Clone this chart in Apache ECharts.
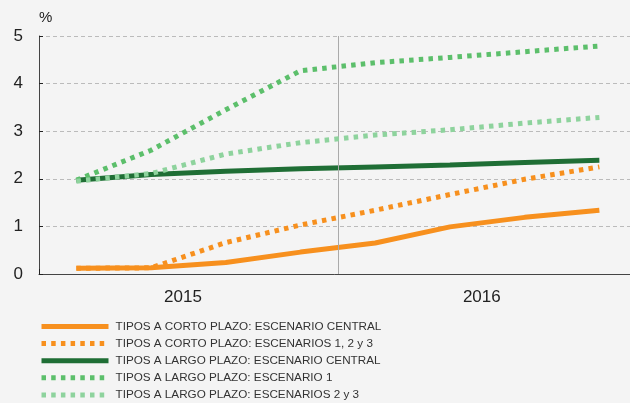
<!DOCTYPE html>
<html>
<head>
<meta charset="utf-8">
<script src="https://cdn.jsdelivr.net/npm/echarts@6/dist/echarts.min.js"></script>
<style>
  html, body { margin: 0; padding: 0; background: #f4f4f4; }
  #chart { width: 630px; height: 403px; }
</style>
</head>
<body>
<div id="chart"></div>
<script>
// Quarterly positions (0 = start of 2015), points at quarter centres.
// The visible span stops a little before the end of 2016.
const quarters = [0.5, 1.5, 2.5, 3.5, 4.5, 5.5, 6.5, 7.5];
const X_MAX = 7.91;
const yearLabels = { 2: '2015', 6: '2016' };
const yearBoundary = 4;
const yTicks = [0, 1, 2, 3, 4, 5];

const cortoCentral   = [0.12, 0.13, 0.24, 0.46, 0.65, 0.99, 1.19, 1.34];
const cortoEsc123    = [0.12, 0.13, 0.66, 1.03, 1.34, 1.67, 1.99, 2.25];
const largoCentral   = [1.97, 2.09, 2.16, 2.21, 2.25, 2.29, 2.34, 2.39];
const largoEsc1      = [1.97, 2.60, 3.45, 4.27, 4.44, 4.55, 4.67, 4.79];
const largoEsc23     = [1.95, 2.11, 2.52, 2.76, 2.92, 3.03, 3.17, 3.29];

const names = [
  'TIPOS A CORTO PLAZO: ESCENARIO CENTRAL',
  'TIPOS A CORTO PLAZO: ESCENARIOS 1, 2 y 3',
  'TIPOS A LARGO PLAZO: ESCENARIO CENTRAL',
  'TIPOS A LARGO PLAZO: ESCENARIO 1',
  'TIPOS A LARGO PLAZO: ESCENARIOS 2 y 3'
];

const ORANGE = '#f7901e';
const DARK_GREEN = '#1f6e35';
const MID_GREEN = '#5cbf6b';
const LIGHT_GREEN = '#8ed39d';
const DOT = [4.5, 5.2];

function pairs(vals) { return quarters.map((q, i) => [q, vals[i]]); }

function lineSeries(name, vals, color, dotted, z) {
  return {
    name: name,
    type: 'line',
    xAxisIndex: 0,
    data: pairs(vals),
    symbol: 'none',
    z: z,
    lineStyle: { color: color, width: 5, type: dotted ? DOT : 'solid', cap: 'butt' },
    itemStyle: { color: color }
  };
}

const series = [
  lineSeries(names[0], cortoCentral, ORANGE, false, 2),
  lineSeries(names[1], cortoEsc123, ORANGE, true, 3),
  lineSeries(names[2], largoCentral, DARK_GREEN, false, 2),
  lineSeries(names[3], largoEsc1, MID_GREEN, true, 4),
  lineSeries(names[4], largoEsc23, LIGHT_GREEN, true, 5)
];
// vertical separator between the two years
series[0].markLine = {
  silent: true,
  symbol: 'none',
  label: { show: false },
  lineStyle: { color: '#aaa', width: 1, type: 'solid' },
  data: [{ xAxis: yearBoundary }]
};

const chart = echarts.init(document.getElementById('chart'));
chart.setOption({
  backgroundColor: '#f4f4f4',
  animation: false,
  grid: { left: 39, top: 36, right: 0, bottom: 129 },
  legend: {
    orient: 'vertical',
    left: 39,
    top: 319,
    padding: 0,
    itemWidth: 67,
    itemHeight: 2,
    itemGap: 2.1,
    data: names,
    itemStyle: { opacity: 0 },
    lineStyle: { width: 5 },
    textStyle: { fontFamily: 'Liberation Sans, Arial', fontSize: 11.7, lineHeight: 15, color: '#333', padding: [0, 0, 0, 2] }
  },
  xAxis: [
    {
      type: 'value', min: 0, max: X_MAX, interval: 4,
      axisLine: { show: true, lineStyle: { color: '#444', width: 1 } },
      axisTick: { show: true, inside: true, length: 5, lineStyle: { color: '#222' } },
      axisLabel: { show: false },
      splitLine: { show: false }
    },
    {
      type: 'value', min: 0, max: X_MAX, interval: 2, position: 'bottom',
      axisLine: { show: false }, axisTick: { show: false },
      axisLabel: {
        fontFamily: 'Liberation Sans, Arial', fontSize: 17, color: '#222', margin: 15,
        padding: [0, 11, 0, 0], showMinLabel: false, showMaxLabel: false,
        formatter: v => yearLabels[v] || ''
      },
      splitLine: { show: false }
    }
  ],
  yAxis: {
    type: 'value', min: 0, max: 5, interval: 1,
    name: '%', nameLocation: 'end', nameGap: 11,
    nameTextStyle: { fontFamily: 'Liberation Sans, Arial', fontSize: 15, color: '#222', align: 'left' },
    axisLine: { show: true, lineStyle: { color: '#444', width: 1 } },
    axisTick: { show: true, inside: true, length: 4, lineStyle: { color: '#222' } },
    axisLabel: {
      fontFamily: 'Liberation Sans, Arial', fontSize: 17, color: '#222', margin: 16,
      formatter: v => yTicks.includes(v) ? String(v) : ''
    },
    splitLine: { show: true, lineStyle: { color: '#bbb', width: 1, type: [4, 3] } }
  },
  series: series
});
</script>
</body>
</html>
